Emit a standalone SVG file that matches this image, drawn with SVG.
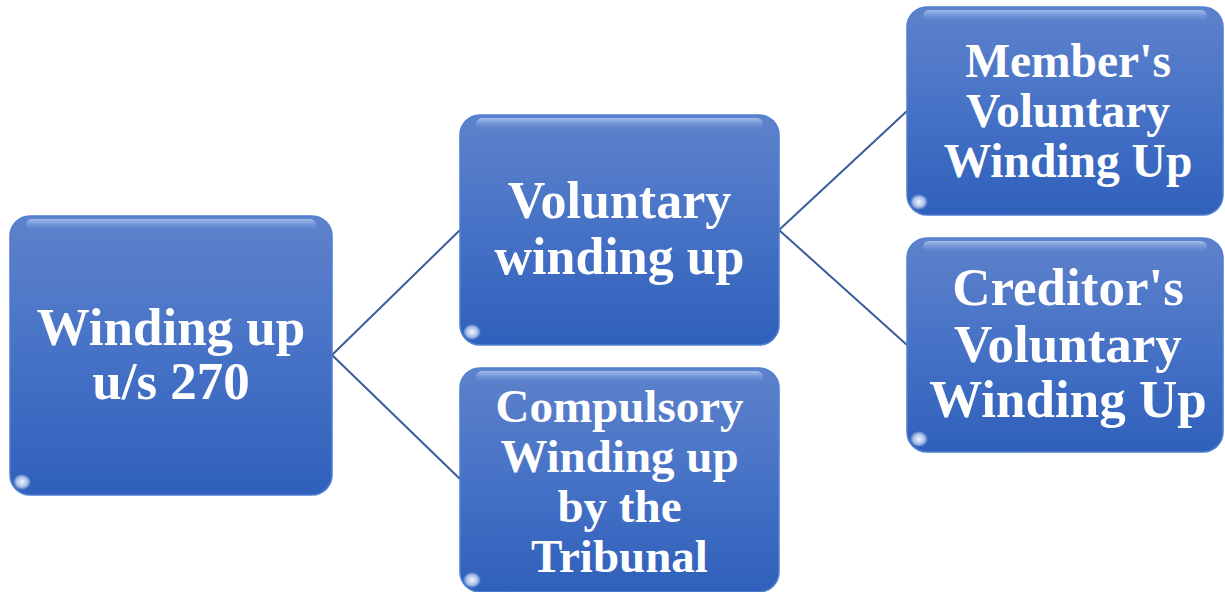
<svg xmlns="http://www.w3.org/2000/svg" width="1225" height="592" viewBox="0 0 1225 592">
<defs>
<linearGradient id="fillG" x1="0" y1="0" x2="0" y2="1">
<stop offset="0" stop-color="#5e82cb"/>
<stop offset="0.5" stop-color="#4672c6"/>
<stop offset="1" stop-color="#2f60bb"/>
</linearGradient>
<linearGradient id="glossG" x1="0" y1="0" x2="0" y2="1">
<stop offset="0" stop-color="#a9c4f0" stop-opacity="0.9"/>
<stop offset="1" stop-color="#6a90d6" stop-opacity="0"/>
</linearGradient>
<radialGradient id="cornerG" cx="0.5" cy="0.5" r="0.5">
<stop offset="0" stop-color="#ffffff" stop-opacity="0.95"/>
<stop offset="0.6" stop-color="#dfeaff" stop-opacity="0.7"/>
<stop offset="1" stop-color="#ffffff" stop-opacity="0"/>
</radialGradient>
</defs>
<style>
.box{fill:url(#fillG);stroke:#4f7fd0;stroke-width:1.5}
.gloss{fill:url(#glossG)}
.lbl{font-family:"Liberation Serif","Times New Roman",serif;font-weight:bold;fill:#ffffff;text-anchor:middle}
.conn{stroke:#3a5b9c;stroke-width:2;fill:none}
</style>
<g id="connectors">
<line class="conn" x1="332" y1="355" x2="460" y2="230"/>
<line class="conn" x1="332" y1="355" x2="460" y2="479"/>
<line class="conn" x1="779" y1="230" x2="907" y2="111"/>
<line class="conn" x1="779" y1="230" x2="907" y2="345"/>
</g>
<g id="n-root">
<rect class="box" x="10" y="216" width="322" height="279" rx="20"/>
<rect class="gloss" x="26" y="219" width="290" height="12" rx="6"/>
<ellipse cx="22" cy="482" rx="9" ry="8" fill="url(#cornerG)"/>
<text class="lbl" font-size="53"><tspan x="171" y="345">Winding up</tspan><tspan x="171" y="399">u/s 270</tspan></text>
</g>
<g id="n-voluntary">
<rect class="box" x="460" y="115" width="319" height="230" rx="20"/>
<rect class="gloss" x="476" y="118" width="287" height="12" rx="6"/>
<ellipse cx="472" cy="332" rx="9" ry="8" fill="url(#cornerG)"/>
<text class="lbl" font-size="52"><tspan x="619.5" y="218">Voluntary</tspan><tspan x="619.5" y="274">winding up</tspan></text>
</g>
<g id="n-compulsory">
<rect class="box" x="460" y="368" width="319" height="224" rx="20"/>
<rect class="gloss" x="476" y="371" width="287" height="12" rx="6"/>
<ellipse cx="472" cy="580" rx="9" ry="8" fill="url(#cornerG)"/>
<text class="lbl" font-size="47"><tspan x="619.5" y="422">Compulsory</tspan><tspan x="619.5" y="472">Winding up</tspan><tspan x="619.5" y="522">by the</tspan><tspan x="619.5" y="572">Tribunal</tspan></text>
</g>
<g id="n-members">
<rect class="box" x="907" y="7" width="316" height="208" rx="20"/>
<rect class="gloss" x="923" y="10" width="284" height="12" rx="6"/>
<ellipse cx="919" cy="202" rx="9" ry="8" fill="url(#cornerG)"/>
<text class="lbl" font-size="47.5"><tspan x="1068" y="77">Member's</tspan><tspan x="1068" y="127">Voluntary</tspan><tspan x="1068" y="177">Winding Up</tspan></text>
</g>
<g id="n-creditors">
<rect class="box" x="907" y="238" width="316" height="214" rx="20"/>
<rect class="gloss" x="923" y="241" width="284" height="12" rx="6"/>
<ellipse cx="919" cy="439" rx="9" ry="8" fill="url(#cornerG)"/>
<text class="lbl" font-size="53"><tspan x="1068" y="305">Creditor's</tspan><tspan x="1068" y="362">Voluntary</tspan><tspan x="1068" y="417">Winding Up</tspan></text>
</g>
</svg>
